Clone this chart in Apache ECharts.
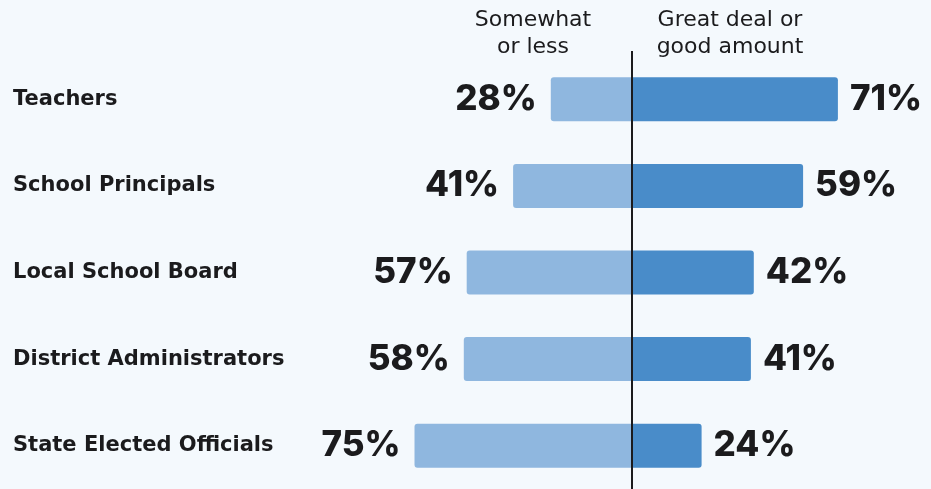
<!DOCTYPE html>
<html>
<head>
<meta charset="utf-8">
<script src="https://cdn.jsdelivr.net/npm/echarts@6/dist/echarts.min.js"></script>
<style>
  html, body { margin: 0; padding: 0; background: #f4f9fd; }
  #chart { width: 931px; height: 489px; }
</style>
</head>
<body>
<div id="chart"></div>
<script>
// Trust groups, top to bottom
const categories = ['Teachers', 'School Principals', 'Local School Board', 'District Administrators', 'State Elected Officials'];
// Share answering "Somewhat or less" (drawn to the left of zero)
const somewhatOrLess = [28, 41, 57, 58, 75];
// Share answering "Great deal or good amount" (drawn to the right of zero)
const greatDeal = [71, 59, 42, 41, 24];
const headers = ['Somewhat\nor less', 'Great deal or\ngood amount'];

const textColor = '#1b1b1d';
const numberFont = 'Inter, "Open Sans", sans-serif';
const wideFont = '"DejaVu Sans", Verdana, sans-serif';

const chart = echarts.init(document.getElementById('chart'), null, { renderer: 'canvas' });

chart.setOption({
  backgroundColor: '#f4f9fd',
  animation: false,
  grid: { left: 284, right: 9, top: 56, bottom: 0, containLabel: false },
  xAxis: {
    type: 'value', min: -120, max: 100,
    show: false
  },
  yAxis: {
    type: 'category',
    data: categories,
    inverse: true,
    axisLine: { show: false },
    axisTick: { show: false },
    splitLine: { show: false },
    axisLabel: {
      align: 'left',
      margin: 271,
      color: textColor,
      fontFamily: wideFont,
      fontSize: 21,
      fontWeight: 'bold',
      padding: [4, 0, 0, 0]
    }
  },
  graphic: [
    {
      id: 'headLeft', type: 'text', x: 533, y: 7,
      style: {
        text: headers[0], align: 'center', verticalAlign: 'top',
        fill: textColor, font: '400 22px ' + wideFont, lineHeight: 27
      }
    },
    {
      id: 'headRight', type: 'text', x: 730, y: 7,
      style: {
        text: headers[1], align: 'center', verticalAlign: 'top',
        fill: textColor, font: '400 22px ' + wideFont, lineHeight: 27
      }
    }
  ],
  series: [
    {
      name: 'Somewhat or less',
      type: 'bar',
      stack: 'trust',
      barWidth: 44,
      data: somewhatOrLess.map(v => -v),
      itemStyle: { color: '#8fb7df', borderRadius: [3, 0, 0, 3] },
      label: {
        show: true,
        position: 'left',
        distance: 14,
        formatter: p => Math.abs(p.value) + '%',
        color: textColor,
        fontFamily: numberFont,
        fontSize: 35,
        fontWeight: 800
      }
    },
    {
      name: 'Great deal or good amount',
      type: 'bar',
      stack: 'trust',
      barWidth: 44,
      data: greatDeal,
      itemStyle: { color: '#498cc9', borderRadius: [0, 3, 3, 0] },
      label: {
        show: true,
        position: 'right',
        distance: 12,
        formatter: p => p.value + '%',
        color: textColor,
        fontFamily: numberFont,
        fontSize: 35,
        fontWeight: 800
      }
    }
  ]
});

// Zero divider: runs from just under the headers to the bottom edge
const zeroX = chart.convertToPixel({ xAxisIndex: 0 }, 0);
chart.setOption({
  graphic: [
    {
      id: 'zeroLine', type: 'line', z: 100, silent: true,
      shape: { x1: zeroX, y1: 51, x2: zeroX, y2: chart.getHeight() },
      style: { stroke: '#1b1b1d', lineWidth: 2 }
    }
  ]
});
</script>
</body>
</html>
